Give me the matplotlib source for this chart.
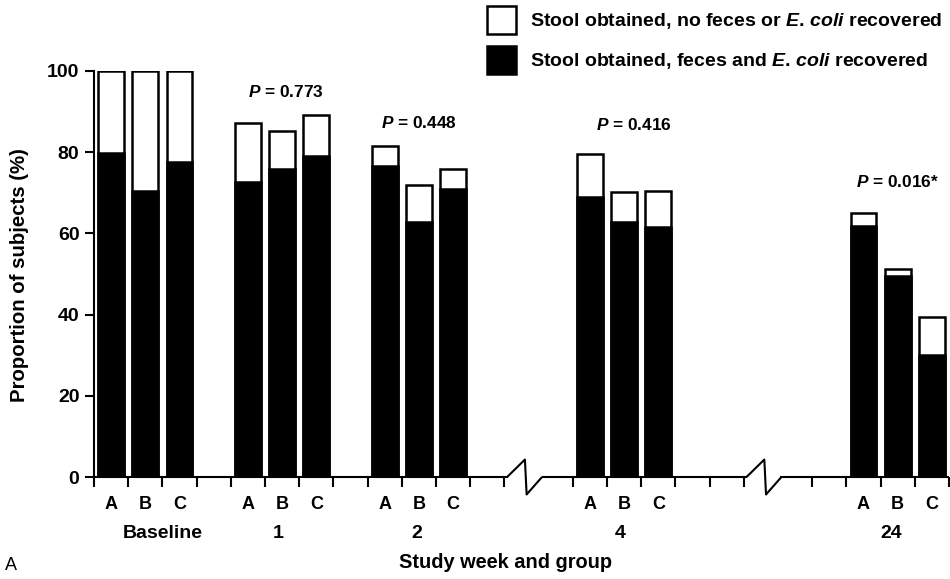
import numpy as np
import matplotlib
matplotlib.use('Agg')
import matplotlib.pyplot as plt
from matplotlib.patches import Patch

plt.rcParams['font.family'] = ['Liberation Sans', 'DejaVu Sans']
plt.rcParams['mathtext.fontset'] = 'custom'
plt.rcParams['mathtext.rm'] = 'Liberation Sans:bold'
plt.rcParams['mathtext.it'] = 'Liberation Sans:italic:bold'
plt.rcParams['mathtext.bf'] = 'Liberation Sans:bold'

weeks = ['Baseline', '1', '2', '4', '24']
groups = ['A', 'B', 'C']
# first slot of each week on the categorical axis
week_slots = [0, 4, 8, 14, 22]
# stool obtained (%), whole bar
total = [[100, 100, 100],
         [87.3, 85.2, 89.2],
         [81.5, 71.9, 75.9],
         [79.6, 70.1, 70.5],
         [65.1, 51.2, 39.3]]
# feces and E. coli recovered (%), black part
recovered = [[79.7, 70.4, 77.6],
             [72.7, 75.9, 79.0],
             [76.6, 62.7, 70.9],
             [69.0, 62.7, 61.5],
             [61.7, 49.5, 30.0]]
p_values = ['0.773', '0.448', '0.416', '0.016*']


def draw_bars(ax):
    lw = 1.8
    for slot, tot, rec in zip(week_slots, total, recovered):
        x = slot + np.arange(3) + 0.5
        ax.bar(x, tot, width=0.76, color='white', edgecolor='black', linewidth=lw, zorder=2)
        ax.bar(x, rec, width=0.76, color='black', edgecolor='black', linewidth=lw, zorder=3)


def draw_axis(ax):
    ax.set_xlim(0, 25)
    ax.set_ylim(0, 100)
    for s in ['top', 'right', 'bottom']:
        ax.spines[s].set_visible(False)
    ax.spines['left'].set_linewidth(1.5)

    # x axis with two breaks
    kw = dict(color='black', lw=1.5, clip_on=False, zorder=4, solid_capstyle='butt')
    ax.plot([0, 12.1], [0, 0], **kw)
    ax.plot([13.1, 19.1], [0, 0], **kw)
    ax.plot([20.05, 25], [0, 0], **kw)
    for b in [12.0, 19.0]:
        ax.plot([b + 0.08, b + 0.6, b + 0.65, b + 1.1], [0, 4.3, -4.3, 0], **kw)

    major = [i for i in range(26) if i not in (13, 20)]
    ax.set_xticks(major)
    ax.set_xticklabels([])
    centers = []
    labels = []
    for slot in week_slots:
        centers += list(slot + np.arange(3) + 0.5)
        labels += groups
    ax.set_xticks(centers, minor=True)
    ax.set_xticklabels(labels, minor=True, fontsize=13, fontweight='bold')
    ax.tick_params(axis='x', which='major', direction='out', length=7, width=1.5)
    ax.tick_params(axis='x', which='minor', length=0, pad=14)

    ax.set_yticks([0, 20, 40, 60, 80, 100])
    ax.set_yticklabels(['0', '20', '40', '60', '80', '100'], fontsize=14, fontweight='bold')
    ax.tick_params(axis='y', direction='out', length=6.5, width=1.5, pad=4)

    week_x = [2.0, 5.4, 9.45, 15.4, 23.3]
    for wx, w in zip(week_x, weeks):
        ax.text(wx, -13.8, w, ha='center', va='center', fontsize=14,
                fontweight='bold', clip_on=False)

    p_pos = [(5.6, 94.8), (9.5, 87.2), (15.8, 86.7), (23.5, 72.7)]
    for (px, py), p in zip(p_pos, p_values):
        ax.text(px, py, r'$\mathit{P}$ = ' + p, ha='center', va='center',
                fontsize=12.4, fontweight='bold')


fig = plt.figure(figsize=(9.5, 5.79), dpi=100)
ax = fig.add_axes([94 / 950, 102 / 579, 855 / 950, 406 / 579])
draw_bars(ax)
draw_axis(ax)

handles = [Patch(facecolor='white', edgecolor='black', linewidth=1.8),
           Patch(facecolor='black', edgecolor='black', linewidth=1.8)]
names = [r'Stool obtained, no feces or $\mathit{E}$. $\mathit{coli}$ recovered',
         r'Stool obtained, feces and $\mathit{E}$. $\mathit{coli}$ recovered']
leg = fig.legend(handles, names, loc='upper left', bbox_to_anchor=(487 / 950, 1 - 6 / 579),
                 frameon=False, handlelength=1.5, handleheight=1.84, handletextpad=0.72,
                 labelspacing=0.62, borderaxespad=0, borderpad=0,
                 prop={'size': 14, 'weight': 'bold'})

fig.text(506 / 950, 1 - 563 / 579, 'Study week and group', ha='center', va='center',
         fontsize=14.4, fontweight='bold')
fig.text(20 / 950, 1 - 275 / 579, 'Proportion of subjects (%)', ha='center', va='center',
         rotation=90, fontsize=14.7, fontweight='bold')
fig.text(5 / 950, 1 - 565 / 579, 'A', ha='left', va='center', fontsize=13)

fig.savefig('out.png', dpi=100)
